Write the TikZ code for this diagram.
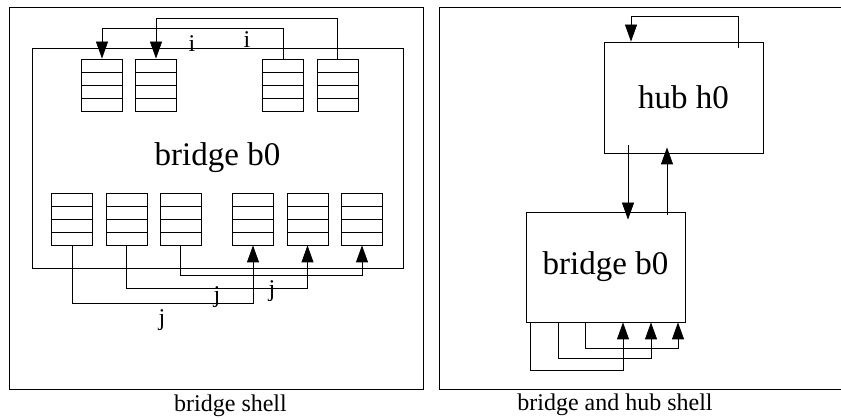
\documentclass[tikz,border=0pt]{standalone}
\usepackage{fontspec}
\setmainfont{Liberation Serif}
\usetikzlibrary{arrows.meta,calc}

\begin{document}
\begin{tikzpicture}[x=1pt, y=-1pt, line width=0.8pt,
    box/.style={draw, inner sep=0pt},
    fifo/.style={draw, inner sep=0pt, minimum width=41pt, minimum height=52pt,
      path picture={
        \foreach \k in {1,2,3}
          \draw ([yshift=-\k*13pt]path picture bounding box.north west)
             -- ([yshift=-\k*13pt]path picture bounding box.north east);
      }},
    arr/.style={-{Triangle[length=17pt,width=12pt]}},
    big/.style={font=\fontsize{33}{36}\selectfont},
    lbl/.style={font=\fontsize{24}{26}\selectfont, inner sep=0pt, anchor=base},
  ]
  \useasboundingbox (0,0) rectangle (841,419);

  % the two shells
  \node[box, minimum width=414pt, minimum height=382pt] (shellL) at (216,198) {};
  \node[box, minimum width=403pt, minimum height=382pt] (shellR) at (640.5,198) {};
  \node[lbl] (capL) at (230.5,411.5) {bridge shell};
  \node[lbl] (capR) at (615,410.5) {bridge and hub shell};

  % bridge with its queues
  \node[box, big, minimum width=371pt, minimum height=220pt] (bridgeL) at (217.5,158) {bridge b0};
  \foreach \n/\x in {1/102,2/156,3/283,4/337.5}
    \node[fifo] (t\n) at (\x,85) {};
  \foreach \n/\x in {1/72,2/126.5,3/180.5,4/253,5/307.5,6/362}
    \node[fifo] (b\n) at (\x,219) {};

  % i links over the top
  \draw[arr] (t3.north) -- ++(0,-30) -| (t1.north);
  \draw[arr] (t4.north) -- ++(0,-40) -| (t2.north);
  \node[lbl] (i1) at (192,52) {i};
  \node[lbl] (i2) at (247,48) {i};

  % j links underneath
  \draw[arr] (b1.south) -- ++(0,58) -| (b4.south);
  \draw[arr] (b2.south) -- ++(0,43) -| (b5.south);
  \draw[arr] (b3.south) -- ++(0,30) -| (b6.south);
  \node[lbl] (j1) at (217,303) {j};
  \node[lbl] (j2) at (272,297) {j};
  \node[lbl] (j3) at (162,326) {j};

  % hub and bridge
  \node[box, big, minimum width=159pt, minimum height=111pt] (hub) at (683.5,97.5) {hub h0};
  \node[box, big, minimum width=159pt, minimum height=110pt] (bridgeR) at (605.5,267) {bridge b0};

  \coordinate (hs) at ($(hub.north east)+(-25,6)$);
  \draw[arr] (hs) -- ++(0,-31) -| ($(hub.north)+(-52.5,0)$);
  \draw[arr] ($(hub.south)+(-55.5,-8)$) -- ($(bridgeR.north)+(22.5,8)$);
  \draw[arr] ($(bridgeR.north)+(61.5,3)$) -- ($(hub.south)+(-16.5,-6)$);

  \foreach \a/\b/\d in {-75.5/17.5/48, -47.5/45.5/36, -20.5/72.5/26}
    \draw[arr] ($(bridgeR.south)+(\a,0)$) -- ++(0,\d) -| ($(bridgeR.south)+(\b,0)$);
\end{tikzpicture}
\end{document}
